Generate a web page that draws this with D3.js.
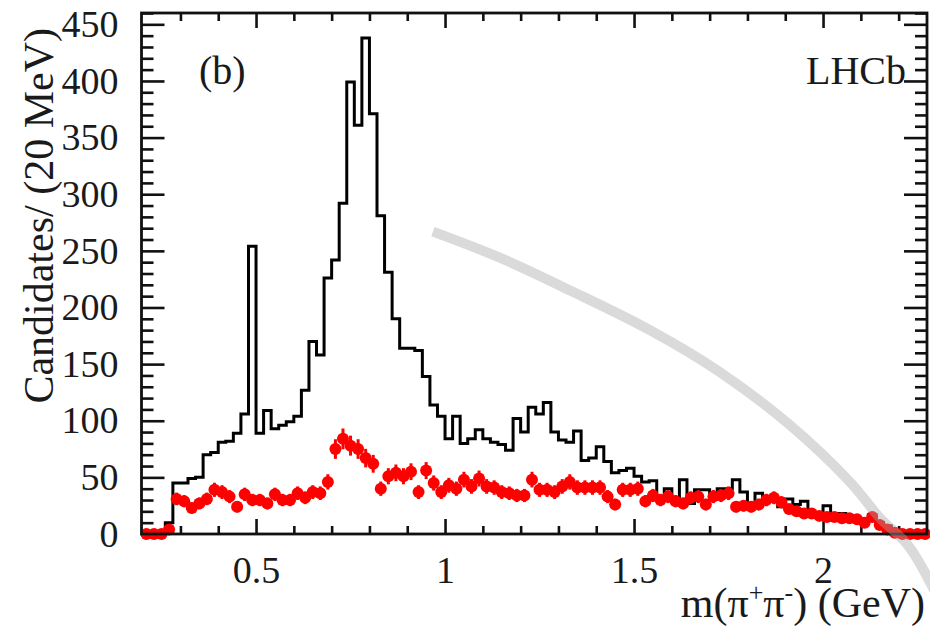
<!DOCTYPE html>
<html>
<head>
<meta charset="utf-8">
<script src="https://cdn.jsdelivr.net/npm/d3@7"></script>
<style>
  body { margin: 0; background: #fff; }
  svg { display: block; }
  text { font-family: "Liberation Serif", "Times New Roman", serif; fill: #1a1a1a; }
</style>
</head>
<body>
<div id="chart"></div>
<script>
// 20 MeV bins starting at 0.2 GeV
const binStart = 0.2;
const binWidth = 0.02;

// black histogram: all candidates
const allCounts = [
  0, 0, 0, 10, 45, 45, 49, 50, 70, 72,
  81, 82, 89, 106, 254, 89, 109, 93, 96, 99,
  104, 127, 170, 158, 226, 242, 292, 399, 361, 438,
  371, 281, 231, 190, 164, 164, 162, 139, 114, 104,
  84, 104, 80, 84, 92, 84, 81, 79, 74, 102,
  90, 112, 106, 116, 90, 83, 81, 91, 65, 67,
  77, 64, 54, 56, 58, 51, 46, 47, 33, 40,
  30, 48, 27, 39, 39, 31, 40, 40, 48, 37,
  26, 36, 31, 32, 24, 31, 26, 29, 18, 18,
  25, 16, 18, 14, 12, 11, 17, 10, 7, 4,
  2, 0, 0, 0
];

// red points: sideband / background
const bkgCounts = [
  0, 0, 0, 4, 31, 29, 23, 27, 31, 39,
  37, 33, 24, 35, 30, 30, 27, 35, 30, 30,
  36, 32, 37, 36, 46, 75, 84, 78, 75, 67,
  62, 40, 51, 54, 51, 55, 37, 56, 45, 37,
  43, 40, 48, 42, 49, 42, 41, 37, 36, 34,
  34, 48, 39, 39, 37, 42, 46, 41, 41, 41,
  41, 33, 26, 39, 39, 40, 29, 34, 30, 33,
  29, 27, 32, 33, 26, 33, 34, 36, 24, 25,
  24, 26, 30, 32, 28, 22, 20, 18, 18, 16,
  15, 15, 14, 14, 13, 10, 15, 8, 4, 1,
  0, 0, 0, 0
];

const xTicks = [0.5, 1, 1.5, 2];
const xTickLabels = ["0.5", "1", "1.5", "2"];
const yTicks = [0, 50, 100, 150, 200, 250, 300, 350, 400, 450];
const yTickLabels = ["0", "50", "100", "150", "200", "250", "300", "350", "400", "450"];

// light grey stroke crossing the plot (GeV, candidates)
const arcTrace = [
  [0.968, 267], [1.145, 244], [1.331, 215], [1.542, 180], [1.727, 143],
  [1.913, 96], [2.071, 46], [2.151, 14], [2.225, -10], [2.296, -51]
];

const width = 930, height = 628;
const plot = { left: 141.5, right: 927, top: 13, bottom: 534 };

const x = d3.scaleLinear().domain([0.197, 2.275]).range([plot.left, plot.right]);
const y = d3.scaleLinear().domain([0, 460]).range([plot.bottom, plot.top]);

const svg = d3.select('#chart').append('svg')
  .attr('width', width)
  .attr('height', height);

svg.append('defs').append('clipPath')
  .attr('id', 'plotclip')
  .append('rect')
  .attr('x', plot.left).attr('y', plot.top)
  .attr('width', plot.right - plot.left)
  .attr('height', plot.bottom - plot.top);

// minor tick positions
const xMinor = d3.range(3, 23).map(d => d / 10).filter(d => !xTicks.some(t => Math.abs(t - d) < 1e-6));
const yMinor = d3.range(0, 461, 10).filter(d => d % 50 !== 0);

function styleAxis(g) {
  g.select('.domain').remove();
  g.selectAll('line').attr('stroke', '#111').attr('stroke-width', 2.6);
  g.selectAll('text')
    .style('font-family', '"Liberation Serif", "Times New Roman", serif')
    .attr('fill', '#1a1a1a');
}

// bottom axis
svg.append('g')
  .attr('transform', `translate(0,${plot.bottom})`)
  .call(d3.axisBottom(x).tickValues(xTicks).tickSize(-15).tickPadding(22)
    .tickFormat((d, i) => xTickLabels[i]))
  .call(styleAxis)
  .call(g => g.selectAll('text').style('font-size', '38px'));
svg.append('g')
  .attr('transform', `translate(0,${plot.bottom})`)
  .call(d3.axisBottom(x).tickValues(xMinor).tickSize(-8).tickFormat(''))
  .call(styleAxis);

// top axis (mirror)
svg.append('g')
  .attr('transform', `translate(0,${plot.top})`)
  .call(d3.axisTop(x).tickValues(xTicks).tickSize(-15).tickFormat(''))
  .call(styleAxis);
svg.append('g')
  .attr('transform', `translate(0,${plot.top})`)
  .call(d3.axisTop(x).tickValues(xMinor).tickSize(-8).tickFormat(''))
  .call(styleAxis);

// left axis
svg.append('g')
  .attr('transform', `translate(${plot.left},0)`)
  .call(d3.axisLeft(y).tickValues(yTicks).tickSize(-23).tickPadding(23)
    .tickFormat((d, i) => yTickLabels[i]))
  .call(styleAxis)
  .call(g => g.selectAll('text').style('font-size', '38px'));
svg.append('g')
  .attr('transform', `translate(${plot.left},0)`)
  .call(d3.axisLeft(y).tickValues(yMinor).tickSize(-12).tickFormat(''))
  .call(styleAxis);

// right axis (mirror)
svg.append('g')
  .attr('transform', `translate(${plot.right},0)`)
  .call(d3.axisRight(y).tickValues(yTicks).tickSize(-23).tickFormat(''))
  .call(styleAxis);
svg.append('g')
  .attr('transform', `translate(${plot.right},0)`)
  .call(d3.axisRight(y).tickValues(yMinor).tickSize(-12).tickFormat(''))
  .call(styleAxis);

// histogram outline
const steps = [];
allCounts.forEach((c, i) => {
  steps.push([binStart + i * binWidth, c]);
  steps.push([binStart + (i + 1) * binWidth, c]);
});
svg.append('path')
  .datum(steps)
  .attr('clip-path', 'url(#plotclip)')
  .attr('fill', 'none')
  .attr('stroke', '#000')
  .attr('stroke-width', 3)
  .attr('stroke-linejoin', 'miter')
  .attr('d', d3.line().x(d => x(d[0])).y(d => y(d[1])));

// red points with error bars
const pts = bkgCounts.map((c, i) => ({ m: binStart + (i + 0.5) * binWidth, v: c, e: Math.sqrt(c) }));
const red = svg.append('g');
red.selectAll('line')
  .data(pts.filter(d => d.e > 0))
  .enter().append('line')
  .attr('x1', d => x(d.m)).attr('x2', d => x(d.m))
  .attr('y1', d => y(d.v + d.e)).attr('y2', d => y(d.v - d.e))
  .attr('stroke', '#ff0000')
  .attr('stroke-width', 3);
red.selectAll('circle')
  .data(pts)
  .enter().append('circle')
  .attr('cx', d => x(d.m))
  .attr('cy', d => y(d.v))
  .attr('r', 6)
  .attr('fill', '#ff0000');

// frame
svg.append('rect')
  .attr('x', plot.left).attr('y', plot.top)
  .attr('width', plot.right - plot.left)
  .attr('height', plot.bottom - plot.top)
  .attr('fill', 'none')
  .attr('stroke', '#111')
  .attr('stroke-width', 2.8);

// grey stroke over the plot
svg.append('path')
  .datum(arcTrace)
  .attr('fill', 'none')
  .attr('stroke', '#a8a8a8')
  .attr('stroke-opacity', 0.42)
  .attr('stroke-width', 10)
  .attr('d', d3.line().curve(d3.curveCatmullRom).x(d => x(d[0])).y(d => y(d[1])));

// labels
svg.append('text')
  .attr('x', 199).attr('y', 84)
  .style('font-size', '40px')
  .text('(b)');

svg.append('text')
  .attr('x', 906).attr('y', 84)
  .attr('text-anchor', 'end')
  .style('font-size', '40px')
  .text('LHCb');

svg.append('text')
  .attr('transform', 'translate(53,28) rotate(-90)')
  .attr('text-anchor', 'end')
  .style('font-size', '42px')
  .text('Candidates/ (20 MeV)');

const xt = svg.append('text')
  .attr('x', 925).attr('y', 617)
  .attr('text-anchor', 'end')
  .style('font-size', '42px');
xt.append('tspan').text('m(π');
xt.append('tspan').attr('dy', -16).style('font-size', '26px').text('+');
xt.append('tspan').attr('dy', 16).text('π');
xt.append('tspan').attr('dy', -16).style('font-size', '26px').text('-');
xt.append('tspan').attr('dy', 16).text(') (GeV)');
</script>
</body>
</html>
